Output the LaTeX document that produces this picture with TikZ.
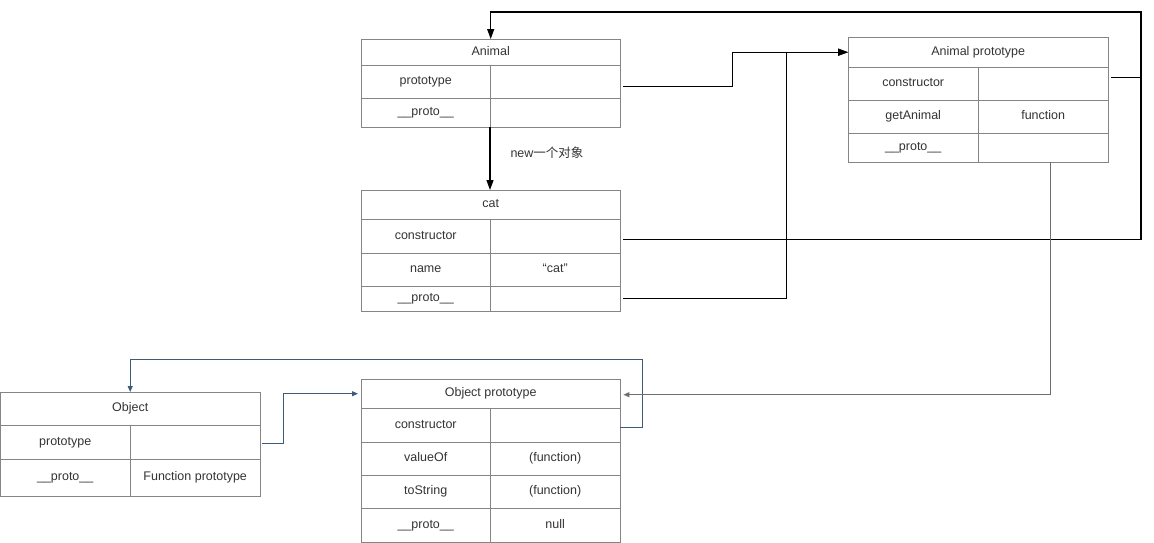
\documentclass[tikz,border=0pt]{standalone}
\usepackage{fontspec}
\setmainfont{Liberation Sans}
\newfontfamily\cjk{Noto Sans CJK SC}
\usetikzlibrary{arrows.meta}

\definecolor{boxgray}{HTML}{858585}
\definecolor{txtgray}{HTML}{333333}
\definecolor{slateline}{HTML}{3E5B7A}
\definecolor{protoline}{HTML}{6E6E6E}

\tikzset{
  cell/.style={draw=boxgray, anchor=north west, inner sep=0pt, text=txtgray,
    text height=9pt, text depth=3pt, font=\fontsize{12.5}{14}\selectfont},
  conn/.style={draw=black, line width=1.2pt, -{Triangle[length=10pt,width=7pt]}},
  joinline/.style={draw=black, line width=1.2pt},
  objconn/.style={draw=slateline, line width=1pt, -{Triangle[length=6pt,width=5pt]}},
  grayconn/.style={draw=protoline, line width=1pt, -{Triangle[length=6pt,width=5pt]}}
}

\begin{document}
\begin{tikzpicture}[x=1pt,y=-1pt]
  \useasboundingbox (0,0) rectangle (1154,542);

  % Animal
  \node[cell, minimum width=259pt, minimum height=26pt] (animal-h) at (361,39) {Animal};
  \node[cell, minimum width=129pt, minimum height=33pt] (animal-p) at (361,65) {prototype};
  \node[cell, minimum width=130pt, minimum height=33pt] (animal-pv) at (490,65) {};
  \node[cell, minimum width=129pt, minimum height=29pt] (animal-u) at (361,98) {\_\_proto\_\_};
  \node[cell, minimum width=130pt, minimum height=29pt] (animal-uv) at (490,98) {};

  % cat
  \node[cell, minimum width=259pt, minimum height=29pt] (cat-h) at (361,190) {cat};
  \node[cell, minimum width=129pt, minimum height=34pt] (cat-c) at (361,219) {constructor};
  \node[cell, minimum width=130pt, minimum height=34pt] (cat-cv) at (490,219) {};
  \node[cell, minimum width=129pt, minimum height=33pt] (cat-n) at (361,253) {name};
  \node[cell, minimum width=130pt, minimum height=33pt] (cat-nv) at (490,253) {“cat”};
  \node[cell, minimum width=129pt, minimum height=25pt] (cat-u) at (361,286) {\_\_proto\_\_};
  \node[cell, minimum width=130pt, minimum height=25pt] (cat-uv) at (490,286) {};

  % Animal prototype
  \node[cell, minimum width=260pt, minimum height=30pt] (aproto-h) at (848,37) {Animal prototype};
  \node[cell, minimum width=130pt, minimum height=33pt] (aproto-c) at (848,67) {constructor};
  \node[cell, minimum width=130pt, minimum height=33pt] (aproto-cv) at (978,67) {};
  \node[cell, minimum width=130pt, minimum height=33pt] (aproto-g) at (848,100) {getAnimal};
  \node[cell, minimum width=130pt, minimum height=33pt] (aproto-gv) at (978,100) {function};
  \node[cell, minimum width=130pt, minimum height=29pt] (aproto-u) at (848,133) {\_\_proto\_\_};
  \node[cell, minimum width=130pt, minimum height=29pt] (aproto-uv) at (978,133) {};

  % Object
  \node[cell, minimum width=260pt, minimum height=33pt] (obj-h) at (0,392) {Object};
  \node[cell, minimum width=130pt, minimum height=34pt] (obj-p) at (0,425) {prototype};
  \node[cell, minimum width=130pt, minimum height=34pt] (obj-pv) at (130,425) {};
  \node[cell, minimum width=130pt, minimum height=37pt] (obj-u) at (0,459) {\_\_proto\_\_};
  \node[cell, minimum width=130pt, minimum height=37pt] (obj-uv) at (130,459) {Function prototype};

  % Object prototype
  \node[cell, minimum width=259pt, minimum height=29pt] (oproto-h) at (361,379) {Object prototype};
  \node[cell, minimum width=129pt, minimum height=34pt] (oproto-c) at (361,408) {constructor};
  \node[cell, minimum width=130pt, minimum height=34pt] (oproto-cv) at (490,408) {};
  \node[cell, minimum width=129pt, minimum height=33pt] (oproto-v) at (361,442) {valueOf};
  \node[cell, minimum width=130pt, minimum height=33pt] (oproto-vv) at (490,442) {(function)};
  \node[cell, minimum width=129pt, minimum height=33pt] (oproto-t) at (361,475) {toString};
  \node[cell, minimum width=130pt, minimum height=33pt] (oproto-tv) at (490,475) {(function)};
  \node[cell, minimum width=129pt, minimum height=34pt] (oproto-u) at (361,508) {\_\_proto\_\_};
  \node[cell, minimum width=130pt, minimum height=34pt] (oproto-uv) at (490,508) {null};

  \coordinate (topright) at (1141,12);
  \coordinate (objcorner) at (642,359);

  % black links
  \draw[conn] (animal-uv.south west) -- (animal-uv.south west |- cat-h.north);
  \node[text=txtgray, font=\fontsize{12.5}{14}\selectfont] (newlabel) at (547,153) {new{\cjk 一个对象}};
  \draw[conn] ([xshift=3pt,yshift=-5pt]animal-pv.east) -- ++(109,0) |- (aproto-h.west);
  \draw[conn] ([xshift=3pt]cat-uv.east) -- ++(163,0) |- (aproto-h.west);
  \draw[conn] ([xshift=3pt,yshift=6pt]aproto-cv.east) -| (topright) -| (animal-h.north);
  \draw[joinline] ([xshift=3pt,yshift=-3pt]cat-cv.east) -| (topright);

  % Object links
  \draw[objconn] ([xshift=2pt,yshift=-1pt]obj-pv.east) -- ++(21,0) |- ([xshift=-3pt]oproto-h.west);
  \draw[objconn] ([yshift=-2pt]oproto-cv.east) -| (objcorner) -| (obj-h.north);
  \draw[grayconn] ([xshift=7pt]aproto-uv.south) |- ([xshift=3pt,yshift=-1pt]oproto-h.east);
\end{tikzpicture}
\end{document}
